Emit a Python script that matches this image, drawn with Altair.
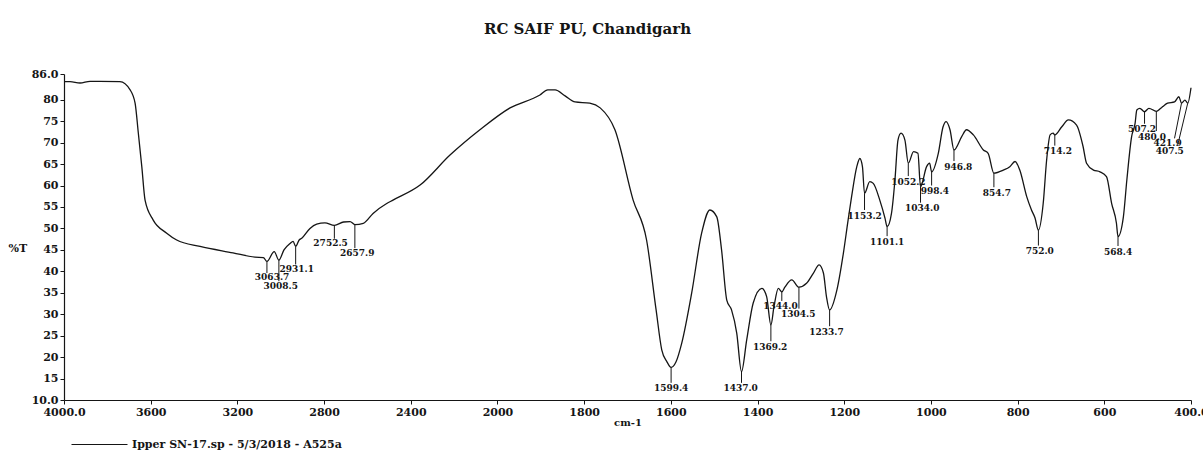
import altair as alt
import pandas as pd

# ---------------- data ----------------
wavenumber = [4000, 3972, 3926, 3880, 3834, 3742, 3695, 3672, 3657, 3641, 3626, 3589, 3526, 3480,
              3372, 3220, 3119, 3080, 3063.7, 3030, 3008.5, 2985, 2957, 2943, 2931.1, 2915, 2903,
              2865, 2834, 2796, 2752.5, 2710, 2680, 2657.9, 2619, 2574, 2511, 2482, 2357, 2219,
              2081, 1971, 1902, 1884, 1867, 1844, 1821, 1787, 1763, 1729, 1687, 1656, 1634, 1621,
              1609, 1599.4, 1588, 1575, 1552, 1529, 1510, 1494, 1483, 1471, 1460, 1448, 1437,
              1425, 1410, 1390, 1379, 1369.2, 1362, 1352, 1344, 1337, 1321, 1304.5, 1287, 1271,
              1258, 1248, 1241, 1233.7, 1217, 1202, 1191, 1183, 1171, 1164, 1158, 1153.2, 1141,
              1133, 1118, 1106, 1101.1, 1091, 1083, 1076, 1069, 1060, 1052.2, 1040, 1030, 1024,
              1010, 1003, 998.4, 983, 972, 965, 956, 946.8, 929, 918, 902, 879, 868, 854.7, 833,
              818, 806, 795, 779, 768, 760, 752, 741, 733, 725, 718, 714.2, 698, 683, 664, 649,
              641, 625, 610, 595, 583, 572, 568.4, 556, 548, 537, 529, 525, 518, 507.2, 497, 480,
              470, 465, 454, 438, 428, 421.9, 414, 407.5, 400]
transmittance = [84.2, 84.2, 83.9, 84.3, 84.3, 84.2, 82.3, 79.2, 72.2, 64.4, 56.6, 52.0, 48.9, 47.3,
                 45.8, 44.3, 43.3, 43.2, 42.3, 44.6, 42.6, 45.0, 46.5, 47.0, 45.8, 47.3, 47.7,
                 50.0, 51.0, 51.3, 50.7, 51.5, 51.6, 50.9, 51.2, 53.5, 55.8, 56.6, 60.1, 67.1,
                 73.0, 78.1, 81.1, 82.3, 82.3, 80.9, 79.5, 79.2, 78.1, 73.0, 56.6, 47.3, 31.0, 21.7,
                 18.9, 17.6, 18.9, 23.2, 34.9, 48.9, 54.3, 52.7, 45.0, 33.3, 31.0, 25.6, 16.6,
                 24.0, 32.6, 36.0, 34.1, 27.5, 31.8, 36.0, 35.2, 36.3, 38.0, 36.3, 37.2, 39.6,
                 41.5, 39.6, 34.1, 31.0, 35.6, 44.2, 52.0, 57.4, 64.4, 66.3, 64.4, 58.2, 60.9,
                 60.5, 56.6, 52.4, 50.4, 53.5, 61.3, 70.6, 72.2, 70.6, 65.2, 67.9, 67.5, 59.7,
                 64.4, 65.2, 63.2, 67.5, 73.7, 74.9, 73.0, 68.3, 71.4, 73.0, 71.8, 68.3, 67.5, 62.9, 63.6,
                 64.4, 65.6, 63.6, 57.4, 54.3, 52.5, 49.6, 55.8, 66.0, 71.8, 72.2, 71.8, 73.7, 75.3, 74.1, 69.1,
                 65.2, 63.6, 63.2, 62.1, 55.8, 51.2, 48.1, 52.7, 61.3, 71.4, 74.5, 77.6, 78.0, 77.2, 78.0, 77.3,
                 78.0, 78.4, 79.2, 79.5, 80.7, 79.2, 79.9, 79.2, 82.8]

# peak annotations: label text, peak position, leader end, label centre
peak_text = ["3063.7", "3008.5", "2931.1", "2752.5", "2657.9", "1599.4", "1437.0", "1369.2",
             "1344.0", "1304.5", "1233.7", "1153.2", "1101.1", "1052.2", "1034.0", "998.4",
             "946.8", "854.7", "752.0", "714.2", "568.4", "507.2", "480.0", "421.9", "407.5"]
peak_wn = [3063.7, 3008.5, 2931.1, 2752.5, 2657.9, 1599.4, 1437.0, 1369.2, 1344.0, 1304.5,
           1233.7, 1153.2, 1101.1, 1052.2, 1024.0, 998.4, 946.8, 854.7, 752.0, 714.2, 568.4,
           507.2, 480.0, 421.9, 407.5]
peak_t = [42.3, 42.6, 45.8, 50.7, 50.9, 17.6, 16.6, 27.5, 35.2, 36.3, 31.0, 58.2, 50.4, 65.2,
          59.7, 63.2, 68.3, 62.9, 49.6, 71.8, 48.1, 77.2, 77.3, 79.2, 79.2]
lead_wn = [3063.7, 3008.5, 2931.1, 2752.5, 2657.9, 1599.4, 1437.0, 1369.2, 1344.0, 1304.5,
           1233.7, 1153.2, 1101.1, 1052.2, 1024.0, 998.4, 946.8, 854.7, 752.0, 714.2, 568.4,
           507.2, 480.0, 438.0, 431.0]
lead_t = [39.6, 37.7, 41.6, 47.6, 45.4, 14.0, 14.0, 23.7, 33.1, 31.3, 27.2, 54.3, 48.2, 62.2,
          56.0, 60.0, 65.7, 59.6, 46.0, 69.3, 45.9, 74.4, 72.7, 71.0, 69.3]
label_wn = [3040, 3000, 2926, 2770, 2647, 1599.4, 1439, 1371, 1347, 1306, 1241, 1153, 1101,
            1052, 1020, 991, 937, 848, 749, 707, 568, 513, 490, 454, 449]
label_t = [38.6, 36.6, 40.5, 46.5, 44.3, 12.7, 12.7, 22.4, 31.8, 30.0, 25.9, 53.0, 46.9, 60.9,
           54.7, 58.7, 64.4, 58.3, 44.7, 68.0, 44.6, 73.1, 71.4, 69.8, 68.1]

x_ticks = [4000, 3600, 3200, 2800, 2400, 2000, 1800, 1600, 1400, 1200, 1000, 800, 600, 400]
y_ticks = [10, 15, 20, 25, 30, 35, 40, 45, 50, 55, 60, 65, 70, 75, 80, 86]

series_name = "Ipper SN-17.sp - 5/3/2018 - A525a"
title_text = "RC SAIF PU, Chandigarh"

# ---------------- chart ----------------
W, H = 1127, 326
FONT = "DejaVu Serif"
INK = "#151515"

spec_df = pd.DataFrame({"wn": wavenumber, "T": transmittance, "series": series_name})
lab_df = pd.DataFrame({"text": peak_text, "peak_wn": peak_wn, "peak_t": peak_t,
                       "lead_wn": lead_wn, "lead_t": lead_t,
                       "label_wn": label_wn, "label_t": label_t})

# IR convention: 4000-2000 cm-1 compressed, 2000-400 cm-1 expanded (piecewise linear)
x_scale = alt.Scale(domain=[4000, 2000, 400], range=[0, W * 5 / 13, W], nice=False, zero=False)
y_scale = alt.Scale(domain=[10, 86], nice=False, zero=False)

x_axis = alt.Axis(values=x_ticks, format="d", title="cm-1",
                  labelExpr="datum.value == 4000 ? '4000.0' : (datum.value == 400 ? '400.0' : datum.label)",
                  labelOverlap=False, labelFlush=False, labelBound=False,
                  titleFontSize=10, titlePadding=0)
y_axis = alt.Axis(values=y_ticks, format="d", title="%T",
                  labelExpr="datum.value == 10 ? '10.0' : (datum.value == 86 ? '86.0' : datum.label)",
                  labelOverlap=False, labelFlush=False, labelBound=False,
                  titleAngle=0, titleAlign="left", titleBaseline="middle", titleX=-56, titleY=174)

line = alt.Chart(spec_df).mark_line(strokeWidth=1.3, interpolate="monotone").encode(
    x=alt.X("wn:Q", scale=x_scale, axis=x_axis),
    y=alt.Y("T:Q", scale=y_scale, axis=y_axis),
    color=alt.Color("series:N", scale=alt.Scale(range=[INK]),
                    legend=alt.Legend(title=None, orient="none", legendX=7, legendY=342,
                                      symbolType="stroke", symbolSize=3136, symbolStrokeWidth=1,
                                      labelFont=FONT, labelFontWeight="bold", labelFontSize=11,
                                      labelColor=INK, labelOffset=4, labelLimit=500, padding=0)),
)

rules = alt.Chart(lab_df).mark_rule(strokeWidth=1, color=INK).encode(
    x=alt.X("peak_wn:Q", scale=x_scale, axis=x_axis),
    y=alt.Y("peak_t:Q", scale=y_scale, axis=y_axis),
    x2="lead_wn:Q",
    y2="lead_t:Q",
)

texts = alt.Chart(lab_df).mark_text(font=FONT, fontWeight="bold", fontSize=9, color=INK,
                                    align="center", baseline="middle").encode(
    x=alt.X("label_wn:Q", scale=x_scale, axis=x_axis),
    y=alt.Y("label_t:Q", scale=y_scale, axis=y_axis),
    text="text:N",
)

chart = alt.layer(line, rules, texts).properties(
    width=W, height=H,
    title=alt.TitleParams(title_text, font=FONT, fontSize=15, fontWeight="bold", color=INK,
                          anchor="middle", offset=31, dx=-40),
    padding={"left": 64, "top": 74, "right": 12, "bottom": 52},
    autosize=alt.AutoSizeParams(type="none"),
    background="white",
).configure_view(stroke=None).configure_axis(
    grid=False, domainColor=INK, domainWidth=1.2, tickColor=INK, tickSize=4, tickWidth=1,
    labelFont=FONT, labelFontWeight="bold", labelFontSize=11, labelColor=INK, labelPadding=2,
    titleFont=FONT, titleFontWeight="bold", titleFontSize=11, titleColor=INK,
)

chart.save("out.html", embed_options={"renderer": "svg", "actions": False})
